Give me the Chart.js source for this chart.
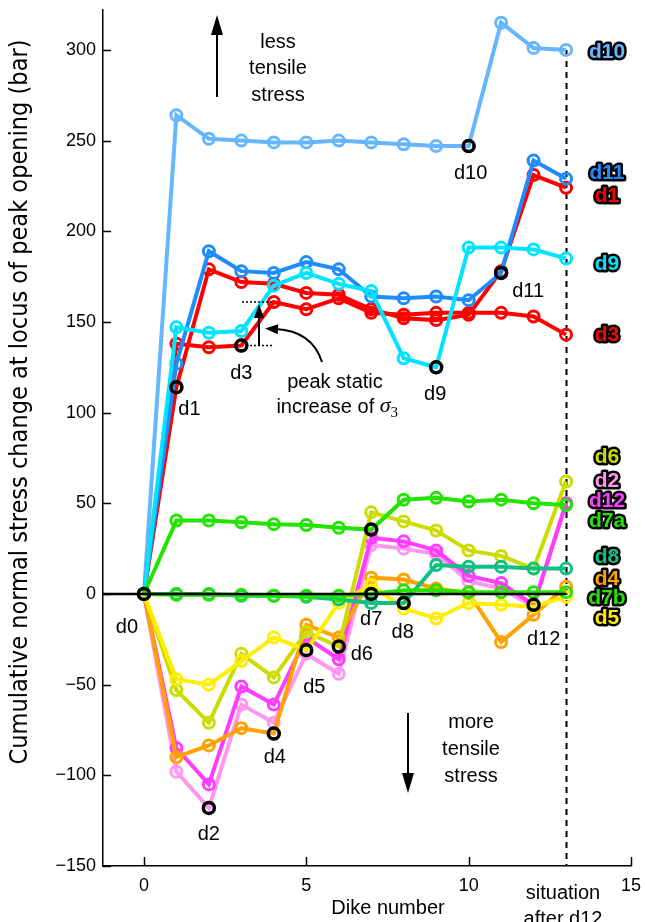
<!DOCTYPE html>
<html>
<head>
<meta charset="utf-8">
<script src="https://cdn.jsdelivr.net/npm/chart.js@4.4.0/dist/chart.umd.min.js"></script>
<style>
html, body { margin: 0; padding: 0; background: #fff; }
#wrap { width: 645px; height: 922px; }
</style>
</head>
<body>
<div id="wrap"><canvas id="chart" width="645" height="922"></canvas></div>
<script>
// x = dike number, 13 is the "situation after d12" column
var dikeNumbers = [0, 1, 2, 3, 4, 5, 6, 7, 8, 9, 10, 11, 12, 13]
var situationX = 13
var xTicks = [0, 5, 10, 15]
var yTicks = [-150, -100, -50, 0, 50, 100, 150, 200, 250, 300]

// cumulative normal stress change (bar) at locus of peak opening of each dike
var d10 = [0, 264, 251, 250, 249, 249, 250, 249, 248, 247, 247, 315, 301, 300]
var d11 = [0, 127, 189, 178, 177, 183, 179, 164, 163, 164, 162, 177, 239, 229]
var d1  = [0, 114, 179, 172, 171, 166, 165, 157, 152, 151, 154, 178, 231, 224]
var d9  = [0, 147, 144, 145, 170, 177, 171, 167, 130, 125, 191, 191, 190, 185]
var d3  = [0, 138, 136, 137, 161, 157, 163, 155, 154, 155, 155, 155, 153, 143]
var d6  = [0, -53, -71, -33, -46, -21, -29, 45, 40, 35, 24, 21, 14, 62]
var d2  = [0, -98, -118, -61, -71, -33, -44, 27, 25, 22, 7, 3, -7, 50]
var d12 = [0, -85, -105, -51, -61, -24, -36, 31, 29, 24, 10, 6, -6, 50]
var d7a = [0, 40.5, 40.5, 39.5, 38.5, 38, 36.5, 35.5, 52, 53, 51, 52, 50, 49]
var d8  = [0, 0, 0, -1, -1, -1.5, -3, -5, -5, 16, 15, 15, 14, 14]
var d4  = [0, -90, -83.5, -74, -77, -17, -24, 9, 8, 3, 0.5, -26.5, -11.5, 4]
var d7b = [0, -0.5, -0.5, -0.5, -1, -1, -1, 0, 2, 2, 1, 1, 1, 1]
var d5  = [0, -47, -50, -37, -24, -31, -5, 5, -8, -13.5, -5, -6, -7, -1.5]

// drawn bottom to top
var seriesNames  = ['d10', 'd3', 'd1', 'd11', 'd9', 'd2', 'd12', 'd4', 'd6', 'd5', 'd8', 'd7a', 'd7b']
var seriesValues = [d10, d3, d1, d11, d9, d2, d12, d4, d6, d5, d8, d7a, d7b]
var seriesColors = ['#66b5ff', '#ff0000', '#ff0000', '#1e8cff', '#00e4ff', '#ff96f2', '#ff3cff',
                    '#ffa200', '#ccdc00', '#ffee00', '#10c080', '#22e400', '#22e400']

// black circles: where each dike opened (dike number -> its own series)
var dikeMarks = [
  ['d0', 0, d10], ['d1', 1, d1], ['d2', 2, d2], ['d3', 3, d3], ['d4', 4, d4], ['d5', 5, d5],
  ['d6', 6, d6], ['d7', 7, d7b], ['', 7, d7a], ['d8', 8, d8], ['d9', 9, d9], ['d10', 10, d10],
  ['d11', 11, d11], ['d12', 12, d12]
]

var FONT = '"Liberation Sans", Arial, sans-serif'

function toPoints(vals) {
  return vals.map(function(v, i) { return {x: dikeNumbers[i], y: v} })
}

var datasets = []
for (var i = 0; i < seriesNames.length; i++) {
  datasets.push({
    label: seriesNames[i],
    data: toPoints(seriesValues[i]),
    showLine: true,
    borderColor: seriesColors[i],
    borderWidth: 4,
    pointRadius: 5.5,
    pointBorderWidth: 3,
    pointBorderColor: seriesColors[i],
    pointBackgroundColor: 'rgba(0,0,0,0)',
    order: 100 - i
  })
}

// zero reference line up to the situation column
datasets.push({
  label: 'zero',
  data: [{x: -1.26, y: 0}, {x: situationX, y: 0}],
  showLine: true,
  borderColor: '#000',
  borderWidth: 2.5,
  pointRadius: 0,
  order: 1
})

datasets.push({
  label: 'dikes',
  data: dikeMarks.map(function(m) { return {x: m[1], y: m[2][m[1]]} }),
  showLine: false,
  pointRadius: 5.5,
  pointBorderWidth: 3.5,
  pointBorderColor: '#000',
  pointBackgroundColor: 'rgba(0,0,0,0)',
  order: 0
})

// label offsets in px from their black circle
var markLabelOffsets = {
  d0: [-17, 34], d1: [13, 22], d2: [0, 27], d3: [0, 28], d4: [1, 24], d5: [8, 37],
  d6: [23, 8], d7: [0, 26], d8: [-1, 29], d9: [-1, 27], d10: [2, 27], d11: [27, 19], d12: [10, 35]
}
// right-hand legend: name, colour, y px
var sideLabels = [
  ['d10', '#66b5ff', 52], ['d11', '#1e8cff', 173], ['d1', '#ff0000', 196], ['d9', '#00e4ff', 264],
  ['d3', '#ff0000', 335], ['d6', '#ccdc00', 457], ['d2', '#ff96f2', 481], ['d12', '#ff3cff', 501],
  ['d7a', '#22e400', 521], ['d8', '#10c080', 557], ['d4', '#ffa200', 579], ['d7b', '#22e400', 598],
  ['d5', '#ffee00', 618]
]

function arrowHead(ctx, x, y, dir, len, half) {
  // dir: angle the arrow points to
  ctx.save()
  ctx.translate(x, y)
  ctx.rotate(dir)
  ctx.beginPath()
  ctx.moveTo(0, 0)
  ctx.lineTo(-len, -half)
  ctx.lineTo(-len, half)
  ctx.closePath()
  ctx.fill()
  ctx.restore()
}

var extras = {
  id: 'extras',
  beforeDatasetsDraw: function(chart) {
    var ctx = chart.ctx, x = chart.scales.x, y = chart.scales.y
    ctx.save()
    ctx.setLineDash([6, 5])
    ctx.lineWidth = 2
    ctx.strokeStyle = '#000'
    var sx = Math.round(x.getPixelForValue(situationX)) + 0.5
    ctx.beginPath()
    ctx.moveTo(sx, y.getPixelForValue(d10[13]))
    ctx.lineTo(sx, y.bottom)
    ctx.stroke()
    ctx.restore()
  },
  afterDraw: function(chart) {
    var ctx = chart.ctx, x = chart.scales.x, y = chart.scales.y
    ctx.save()
    ctx.strokeStyle = '#000'
    ctx.fillStyle = '#000'
    ctx.lineWidth = 1.5

    // inward tick marks
    yTicks.forEach(function(v) {
      var py = Math.round(y.getPixelForValue(v)) + 0.5
      ctx.beginPath(); ctx.moveTo(x.left, py); ctx.lineTo(x.left + 8, py); ctx.stroke()
    })
    xTicks.forEach(function(v) {
      var px = Math.round(x.getPixelForValue(v)) + 0.5
      ctx.beginPath(); ctx.moveTo(px, y.bottom); ctx.lineTo(px, y.bottom - 9); ctx.stroke()
    })

    // point labels
    ctx.font = '20px ' + FONT
    ctx.textAlign = 'center'
    ctx.textBaseline = 'middle'
    dikeMarks.forEach(function(m) {
      if (!m[0]) return
      var off = markLabelOffsets[m[0]]
      ctx.fillText(m[0], x.getPixelForValue(m[1]) + off[0], y.getPixelForValue(m[2][m[1]]) + off[1])
    })

    // side legend, coloured with black outline
    ctx.font = 'bold 21px ' + FONT
    ctx.lineJoin = 'round'
    sideLabels.forEach(function(s) {
      ctx.lineWidth = 5
      ctx.strokeStyle = '#000'
      ctx.strokeText(s[0], 607, s[2])
      ctx.fillStyle = s[1]
      ctx.fillText(s[0], 607, s[2])
    })

    ctx.fillStyle = '#000'
    ctx.strokeStyle = '#000'
    ctx.font = '20px ' + FONT
    ctx.fillText('less', 278, 42)
    ctx.fillText('tensile', 278, 68)
    ctx.fillText('stress', 278, 95)
    ctx.fillText('more', 471, 722)
    ctx.fillText('tensile', 471, 749)
    ctx.fillText('stress', 471, 776)

    // up / down arrows
    ctx.lineWidth = 2
    ctx.beginPath(); ctx.moveTo(217, 97); ctx.lineTo(217, 30); ctx.stroke()
    arrowHead(ctx, 217, 15, -Math.PI / 2, 20, 6)
    ctx.beginPath(); ctx.moveTo(408, 713); ctx.lineTo(408, 778); ctx.stroke()
    arrowHead(ctx, 408, 793, Math.PI / 2, 20, 6)

    // peak static increase of sigma3 (between d3 at dike 3 and 4)
    var yLo = y.getPixelForValue(d3[3]), yHi = y.getPixelForValue(d3[4])
    ctx.save()
    ctx.setLineDash([2, 2])
    ctx.lineWidth = 1.5
    ctx.beginPath(); ctx.moveTo(242, yHi); ctx.lineTo(274, yHi); ctx.stroke()
    ctx.beginPath(); ctx.moveTo(250, yLo); ctx.lineTo(274, yLo); ctx.stroke()
    ctx.restore()
    ctx.lineWidth = 2
    ctx.beginPath(); ctx.moveTo(259, yLo); ctx.lineTo(259, yHi + 14); ctx.stroke()
    arrowHead(ctx, 259, yHi + 2, -Math.PI / 2, 14, 5)

    ctx.beginPath()
    ctx.moveTo(322, 362)
    ctx.quadraticCurveTo(312, 331, 276, 329)
    ctx.stroke()
    arrowHead(ctx, 265, 328.5, Math.PI + 0.05, 13, 5)

    ctx.font = '20px ' + FONT
    ctx.fillText('peak static', 335, 382)
    var t1 = 'increase of '
    var w1 = ctx.measureText(t1).width
    ctx.font = 'italic 22px "Liberation Serif", serif'
    var ws = ctx.measureText('\u03C3').width
    var total = w1 + ws + 9
    var sx0 = 338 - total / 2
    ctx.textAlign = 'left'
    ctx.font = '20px ' + FONT
    ctx.fillText(t1, sx0, 407)
    ctx.font = 'italic 22px "Liberation Serif", serif'
    ctx.fillText('\u03C3', sx0 + w1, 406)
    ctx.font = '15px "Liberation Serif", serif'
    ctx.fillText('3', sx0 + w1 + ws, 413)

    // axis titles
    ctx.textAlign = 'center'
    ctx.font = '20px ' + FONT
    ctx.fillText('Dike number', 388, 908)
    ctx.fillText('situation', 563, 893)
    ctx.fillText('after d12', 563, 919)

    var ytitle = 'Cumulative normal stress change at locus of peak opening (bar)'
    ctx.font = '25px "Liberation Sans Narrow", "DejaVu Sans Condensed", ' + FONT
    var tw = ctx.measureText(ytitle).width
    ctx.translate(20, 402)
    ctx.rotate(-Math.PI / 2)
    ctx.scale(725 / tw, 1)
    ctx.fillText(ytitle, 0, 0)
    ctx.restore()
  }
}

new Chart(document.getElementById('chart'), {
  type: 'scatter',
  data: { datasets: datasets },
  options: {
    responsive: false,
    animation: false,
    devicePixelRatio: 1,
    layout: { padding: { top: 10, right: 14, bottom: 0, left: 0 } },
    plugins: { legend: { display: false }, tooltip: { enabled: false } },
    elements: { line: { tension: 0 } },
    scales: {
      x: {
        type: 'linear',
        min: -1.26,
        max: 15,
        afterBuildTicks: function(s) { s.ticks = xTicks.map(function(v) { return {value: v} }) },
        afterFit: function(s) { s.height = 56; s.paddingLeft = 0; s.paddingRight = 0 },
        grid: { display: true, drawOnChartArea: false, drawTicks: false },
        border: { display: true, color: '#000', width: 1.5 },
        ticks: { color: '#000', font: { family: FONT, size: 18 }, padding: 9, maxRotation: 0 }
      },
      y: {
        type: 'linear',
        min: -150,
        max: 322,
        afterBuildTicks: function(s) { s.ticks = yTicks.map(function(v) { return {value: v} }) },
        afterFit: function(s) { s.width = 103; s.paddingTop = 0; s.paddingBottom = 0 },
        grid: { display: true, drawOnChartArea: false, drawTicks: false },
        border: { display: true, color: '#000', width: 1.5 },
        ticks: {
          color: '#000', font: { family: FONT, size: 18 }, padding: 7,
          callback: function(v) { return v < 0 ? '\u2212' + Math.abs(v) : '' + v }
        }
      }
    }
  },
  plugins: [extras]
})
</script>
</body>
</html>
